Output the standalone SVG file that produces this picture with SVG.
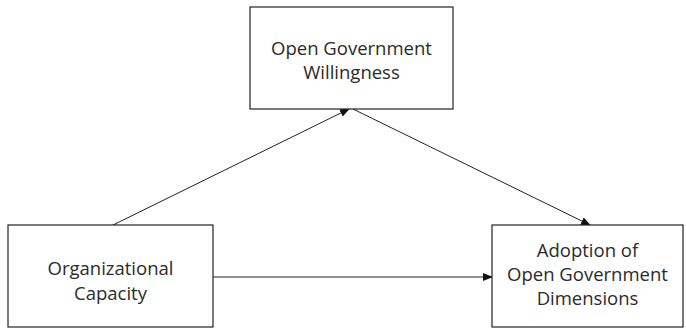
<svg xmlns="http://www.w3.org/2000/svg" width="686" height="329" viewBox="0 0 686 329">
<style>
.box{fill:#fff;stroke:#222;stroke-width:1.2}
.t{font-family:"Open Sans","Liberation Sans",sans-serif;font-size:18.5px;fill:#2a2a2a;text-anchor:middle}
.c{stroke:#222;stroke-width:1;fill:none;marker-end:url(#ah)}
</style>
<defs>
<marker id="ah" markerWidth="10" markerHeight="8" refX="9" refY="4" orient="auto" markerUnits="userSpaceOnUse">
<path d="M0,0 L10,4 L0,8 z" fill="#111"/>
</marker>
</defs>
<rect width="686" height="329" fill="#fff"/>
<g id="connectors">
<line class="c" x1="113" y1="225" x2="349" y2="109"/>
<line class="c" x1="353" y1="109" x2="590" y2="225"/>
<line class="c" x1="213" y1="277" x2="492" y2="277"/>
</g>
<g id="willingness">
<rect class="box" x="250" y="7" width="203" height="102"/>
<text class="t" x="351.5" y="55">Open Government</text>
<text class="t" x="351.5" y="79">Willingness</text>
</g>
<g id="capacity">
<rect class="box" x="8" y="225" width="205" height="102"/>
<text class="t" x="110.5" y="275">Organizational</text>
<text class="t" x="110.5" y="300">Capacity</text>
</g>
<g id="adoption">
<rect class="box" x="492" y="225" width="191" height="102"/>
<text class="t" x="587.5" y="257">Adoption of</text>
<text class="t" x="587.5" y="281">Open Government</text>
<text class="t" x="587.5" y="305">Dimensions</text>
</g>
</svg>
